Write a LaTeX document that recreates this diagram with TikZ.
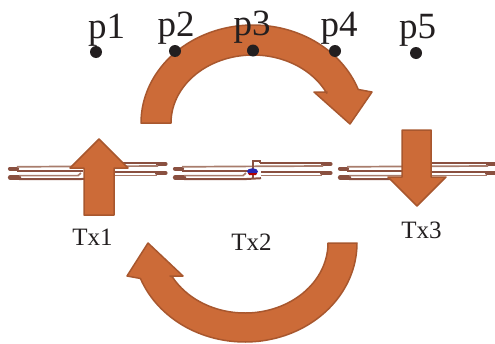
\documentclass[tikz,border=0pt]{standalone}
\usepackage{fontspec}
\setmainfont{Liberation Serif}
\definecolor{arrowfill}{HTML}{CC6B38}
\definecolor{arrowedge}{HTML}{A8572E}
\definecolor{metal}{HTML}{8A5040}
\definecolor{metallight}{HTML}{A87C6C}
\definecolor{inktext}{HTML}{231F20}
\tikzset{
  bigarrow/.style={fill=arrowfill,draw=arrowedge,line width=1.5pt,line join=round},
  plabel/.style={anchor=base,text=inktext,inner sep=0pt,font=\fontsize{37}{37}\selectfont},
  txlabel/.style={anchor=base,text=inktext,inner sep=0pt,font=\fontsize{25}{25}\selectfont},
  probe/.style={circle,fill=inktext,minimum size=12pt,inner sep=0pt},
  pad/.style={draw=metal,line width=4.2pt,line cap=round},
  finger/.style={draw=metal,line width=2pt},
  fingerlight/.style={draw=metallight,line width=1.7pt},
}
\newcommand{\fetbody}[1]{%
  \begin{scope}[xshift=#1pt]
    % left fingers
    \draw[pad] (175,168.6) -- (182,168.6);
    \draw[pad] (175,177.5) -- (184,177.5);
    \draw[fingerlight] (182,166.8) -- (245,166.4);
    \draw[finger] (182,170.9) -- (248,170.9);
    \draw[finger] (184,179.2) -- (243,179.2) -- (261,178.2);
    \draw[fingerlight] (184,175.6) -- (243,175.6) -- (246,173);
    % right fingers
    \draw[pad] (323,164) -- (330.5,164);
    \draw[pad] (322,173) -- (330.5,173);
    \draw[finger] (260,162.6) -- (323,162.6);
    \draw[fingerlight] (245,166.4) -- (323,166);
    \draw[finger] (261,171.6) -- (322,171.6);
    \draw[fingerlight] (261,175.4) -- (322,175.4);
  \end{scope}
}
\begin{document}
\begin{tikzpicture}[x=1pt,y=-1pt]
  \useasboundingbox (0,0) rectangle (495,343);
  \begin{scope}
    \clip (0,0) rectangle (495,343);
    \fetbody{-165}
    \fetbody{0}
    \fetbody{165}
  \end{scope}
  % gate of the middle device
  \draw[finger,line width=1.5pt] (253,178) -- (253,161.2) -- (260,161.2) -- (260,162.6);
  \fill[blue!65!black!85] (252.5,171.6) ellipse[x radius=5.5pt,y radius=3.4pt];
  \fill[red!70!black] (248,173) -- (257,173) -- (256,175) -- (249,175) -- cycle;
  % vertical block arrows
  \draw[bigarrow] (84,215) -- (84,168) -- (70,168) -- (99,139) -- (128,168) -- (114,168) -- (114,215) -- cycle;
  \draw[bigarrow] (402,130) -- (402,177) -- (388,177) -- (417,206) -- (446,177) -- (431,177) -- (431,130) -- cycle;
  % curved top arrow
  \draw[bigarrow] plot[domain=180:340,samples=70] ({253+112*cos(\x)},{123+98*sin(\x)})
    -- (372,92) -- (350,124) -- (314,92) -- (327,92)
    -- plot[domain=334:180,samples=70] ({253+82*cos(\x)},{123+68*sin(\x)}) -- cycle;
  % curved bottom arrow
  \draw[bigarrow] plot[domain=0:159,samples=70] ({245+112*cos(\x)},{243+99*sin(\x)})
    -- (127,276) -- (148,243) -- (183,276) -- (170,276)
    -- plot[domain=151:0,samples=70] ({245+83*cos(\x)},{243+70*sin(\x)}) -- cycle;
  % labels
  \node[plabel] (p1) at (106.5,38) {p1};
  \node[plabel] (p2) at (176,36) {p2};
  \node[plabel] (p3) at (252,35) {p3};
  \node[plabel] (p4) at (339,36) {p4};
  \node[plabel] (p5) at (417.5,38) {p5};
  \node[probe] (d1) at (96,52) {};
  \node[probe] (d2) at (175,51) {};
  \node[probe] (d3) at (253,50.5) {};
  \node[probe] (d4) at (335,51) {};
  \node[probe] (d5) at (416,53) {};
  \node[txlabel] (t1) at (92.5,245) {Tx1};
  \node[txlabel] (t2) at (251.5,250) {Tx2};
  \node[txlabel] (t3) at (421.5,238) {Tx3};
\end{tikzpicture}
\end{document}
